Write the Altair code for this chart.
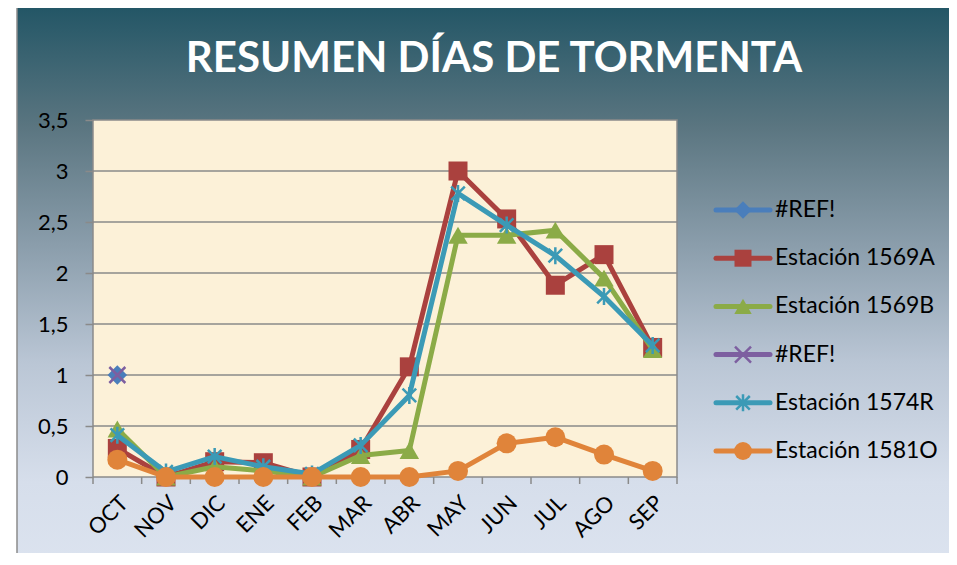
import altair as alt
import pandas as pd

# ---------------- data ----------------
months = ["OCT", "NOV", "DIC", "ENE", "FEB", "MAR", "ABR", "MAY", "JUN", "JUL", "AGO", "SEP"]

series_keys = ["ref1", "e1569A", "e1569B", "ref2", "e1574R", "e1581O"]
series_labels = ["#REF!", "Estación 1569A", "Estación 1569B", "#REF!", "Estación 1574R", "Estación 1581O"]

ref1_vals = [1.0, None, None, None, None, None, None, None, None, None, None, None]
e1569a_vals = [0.28, 0.0, 0.15, 0.14, 0.0, 0.27, 1.08, 3.0, 2.53, 1.88, 2.18, 1.27]
e1569b_vals = [0.47, 0.0, 0.10, 0.06, 0.0, 0.21, 0.26, 2.37, 2.37, 2.42, 1.95, 1.25]
ref2_vals = [1.0, None, None, None, None, None, None, None, None, None, None, None]
e1574r_vals = [0.41, 0.05, 0.20, 0.10, 0.03, 0.31, 0.80, 2.78, 2.47, 2.17, 1.77, 1.29]
e1581o_vals = [0.17, 0.0, 0.0, 0.0, 0.0, 0.0, 0.0, 0.06, 0.33, 0.39, 0.22, 0.06]

y_ticks = [0, 0.5, 1, 1.5, 2, 2.5, 3, 3.5]
grid_vals = [0.5, 1, 1.5, 2, 2.5, 3]

# ---------------- styling ----------------
colors = {"ref1": "#4a7ebb", "e1569A": "#aa413e", "e1569B": "#8bab47",
          "ref2": "#7d5fa0", "e1574R": "#3b9ab6", "e1581O": "#e0843a"}
X_PATH = "M-1,-1L1,1M-1,1L1,-1"
STAR_PATH = "M0,-1L0,1M-0.8,-0.8L0.8,0.8M-0.8,0.8L0.8,-0.8"
shapes = {"ref1": ("diamond", True, 380), "e1569A": ("square", True, 361),
          "e1569B": ("triangle-up", True, 380), "ref2": (X_PATH, False, 256),
          "e1574R": (STAR_PATH, False, 289), "e1581O": ("circle", True, 400)}

W, H = 584, 357
FONT = "Lato"
GRID = "#8a8a8a"

all_vals = [ref1_vals, e1569a_vals, e1569b_vals, ref2_vals, e1574r_vals, e1581o_vals]
rows = []
for key, vals in zip(series_keys, all_vals):
    for m, v in zip(months, vals):
        if v is not None:
            rows.append({"series": key, "month": m, "value": v})
df = pd.DataFrame(rows)

x_scale = alt.Scale(type="band", domain=months, paddingInner=0, paddingOuter=0)
x_axis = alt.Axis(title=None, labelAngle=-45, labelAlign="right", labelBaseline="top",
                  labelFont=FONT, labelFontSize=22, labelColor="black", labelPadding=15,
                  ticks=False, domain=False, grid=False, zindex=1)
y_scale = alt.Scale(domain=[0, 3.5])
y_axis = alt.Axis(title=None, values=y_ticks, grid=False, domain=False,
                  ticks=True, tickSize=8, tickColor=GRID, tickWidth=1.5,
                  labelFont=FONT, labelFontSize=22, labelColor="black", labelPadding=17,
                  labelExpr="replace(toString(datum.value), '.', ',')", zindex=1)


def xenc(band=0.5):
    return alt.X("month:N", sort=months, scale=x_scale, axis=x_axis, bandPosition=band)


# background gradient of the whole chart frame
bg = alt.Chart(pd.DataFrame({"a": [0]})).mark_rect(
    fill=alt.LinearGradient(
        gradient="linear", x1=0, x2=0, y1=0, y2=1,
        stops=[alt.GradientStop(color="#235666", offset=0),
               alt.GradientStop(color="#5a7580", offset=0.2),
               alt.GradientStop(color="#8a9dab", offset=0.4),
               alt.GradientStop(color="#bac6d5", offset=0.6),
               alt.GradientStop(color="#d6deeb", offset=0.8),
               alt.GradientStop(color="#dee5f1", offset=1)]),
    stroke="#8c8c8c", strokeWidth=1.5,
).encode(x=alt.value(-76), x2=alt.value(900), y=alt.value(-113), y2=alt.value(480))

plot_bg = alt.Chart(pd.DataFrame({"a": [0]})).mark_rect(
    fill="#fcf1d8", stroke=GRID, strokeWidth=1.5
).encode(x=alt.value(0), x2=alt.value(W), y=alt.value(0), y2=alt.value(H))

grid = alt.Chart(pd.DataFrame({"v": grid_vals})).mark_rule(
    color=GRID, strokeWidth=1.5
).encode(y=alt.Y("v:Q", scale=y_scale, axis=y_axis), x=alt.value(0), x2=alt.value(W))

ticks_df = pd.DataFrame({"month": months})
xticks = alt.Chart(ticks_df).mark_rule(color=GRID, strokeWidth=1.5).encode(
    x=xenc(0), y=alt.value(H), y2=alt.value(H + 7))
xticks_end = alt.Chart(ticks_df).transform_filter(
    alt.datum.month == months[-1]).mark_rule(color=GRID, strokeWidth=1.5).encode(
    x=xenc(1), y=alt.value(H), y2=alt.value(H + 7))

series_layers = []
for key in series_keys:
    sub = alt.Chart(df).transform_filter(alt.datum.series == key)
    col = colors[key]
    shp, filled, size = shapes[key]
    line = sub.mark_line(color=col, strokeWidth=5, strokeJoin="round").encode(
        x=xenc(), y=alt.Y("value:Q", scale=y_scale, axis=y_axis))
    if filled:
        pts = sub.mark_point(shape=shp, filled=True, color=col, size=size, opacity=1).encode(
            x=xenc(), y=alt.Y("value:Q", scale=y_scale, axis=y_axis))
    else:
        pts = sub.mark_point(shape=shp, filled=False, color=col, size=size,
                             strokeWidth=2.5, opacity=1).encode(
            x=xenc(), y=alt.Y("value:Q", scale=y_scale, axis=y_axis))
    series_layers += [line, pts]

main = alt.layer(plot_bg, grid, xticks, xticks_end, *series_layers)

# ---------------- legend (data-driven rows) ----------------
leg_df = pd.DataFrame({"series": series_keys, "label": series_labels})
leg_y = alt.Y("series:N", scale=alt.Scale(type="point", domain=series_keys, range=[90, 331], padding=0),
              axis=None)
legend_layers = []
for key in series_keys:
    sub = alt.Chart(leg_df).transform_filter(alt.datum.series == key)
    col = colors[key]
    shp, filled, size = shapes[key]
    legend_layers.append(sub.mark_rule(color=col, strokeWidth=5, strokeCap="round").encode(
        y=leg_y, x=alt.value(623), x2=alt.value(677)))
    if filled:
        legend_layers.append(sub.mark_point(shape=shp, filled=True, color=col, size=size * 0.8,
                                            opacity=1).encode(y=leg_y, x=alt.value(650)))
    else:
        legend_layers.append(sub.mark_point(shape=shp, filled=False, color=col, size=size,
                                            strokeWidth=2.5, opacity=1).encode(y=leg_y, x=alt.value(650)))
legend_layers.append(alt.Chart(leg_df).mark_text(
    align="left", baseline="middle", font=FONT, fontSize=23, color="black"
).encode(y=leg_y, x=alt.value(682), text="label:N"))
legend = alt.layer(*legend_layers)

chart = alt.layer(bg, main, legend).resolve_scale(y="independent").properties(
    width=W, height=H,
    title=alt.TitleParams("RESUMEN DÍAS DE TORMENTA", font=FONT, fontSize=42, fontWeight="bold",
                          color="white", anchor="middle", dx=109, offset=-75, zindex=1),
    autosize=alt.AutoSizeParams(type="none"),
    padding={"left": 85, "top": 112, "right": 272, "bottom": 76},
).configure_view(stroke=None).configure(background="white")

chart.save("out.html", embed_options={"renderer": "svg", "actions": False})
